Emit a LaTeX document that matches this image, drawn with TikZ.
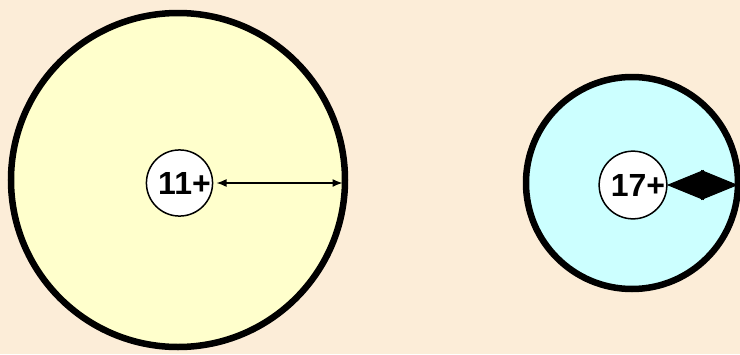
\documentclass[tikz,border=0pt]{standalone}
\usepackage{fontspec}
\setmainfont{Liberation Sans}
\usetikzlibrary{arrows.meta}
\definecolor{bg}{RGB}{252,237,216}
\definecolor{pale}{RGB}{255,255,204}
\definecolor{aqua}{RGB}{204,255,255}
\begin{document}
\begin{tikzpicture}[x=1pt,y=-1pt,
  outerring/.style={circle, draw=black, line width=6.5pt, outer sep=0pt, inner sep=0pt},
  core/.style={circle, draw=black, fill=white, line width=1.5pt, minimum size=66pt,
    inner sep=0pt, outer sep=0pt, font=\bfseries\fontsize{32}{32}\selectfont},
  thinarrow/.style={line width=1.3pt, {Latex[length=10pt,width=8pt]}-{Latex[length=10pt,width=8pt]}},
  fatarrow/.style={line width=1pt, {Triangle[length=37pt,width=30pt]}-{Triangle[length=37pt,width=30pt]}}]
\fill[bg] (0,0) rectangle (740,354);
\useasboundingbox (0,0) rectangle (740,354);
\node[outerring, fill=pale, minimum size=334pt] (out1) at (178,180) {};
\node[core] (in1) at (179.5,183) {\hspace*{10pt}11+};
\node[outerring, fill=aqua, minimum size=212pt] (out2) at (632,183) {};
\node[core] (in2) at (633,185) {\hspace*{10pt}17+};
\draw[thinarrow, shorten <=4pt, shorten >=2.5pt] (in1.east) -- (in1.east -| out1.east);
\draw[fatarrow] (in2.east) -- (in2.east -| out2.east);
\end{tikzpicture}
\end{document}
